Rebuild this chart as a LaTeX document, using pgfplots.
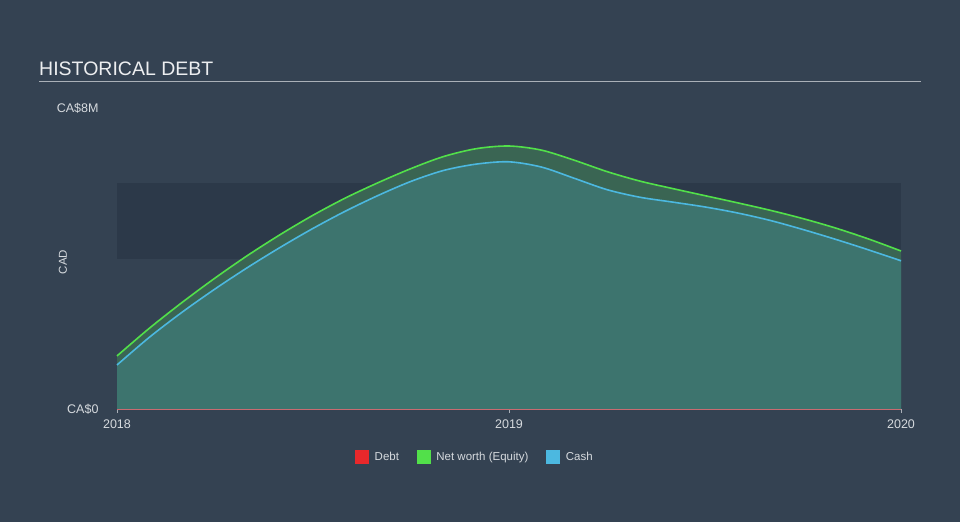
\documentclass[border=0pt]{standalone}
\usepackage{fontspec}
\setmainfont{Liberation Sans}
\usepackage{pgfplots}
\usepackage{pgfplotstable}
\pgfplotsset{compat=1.18}
\definecolor{bg}{RGB}{52,66,82}
\definecolor{band}{RGB}{44,57,73}
\definecolor{nwfill}{RGB}{58,101,83}
\definecolor{cashfill}{RGB}{61,116,110}
\definecolor{nwline}{RGB}{82,224,74}
\definecolor{cashline}{RGB}{76,184,224}
\definecolor{debtc}{RGB}{232,40,43}
\definecolor{titlec}{RGB}{236,238,240}
\definecolor{labc}{RGB}{214,218,222}
\definecolor{rulec}{RGB}{170,176,184}
\pgfplotstableread{
t        nw    cash
2018.000 1.41  1.17
2018.083 2.15  1.91
2018.167 2.84  2.58
2018.250 3.48  3.19
2018.333 4.08  3.76
2018.417 4.64  4.30
2018.500 5.15  4.80
2018.583 5.61  5.26
2018.667 6.02  5.68
2018.750 6.39  6.05
2018.833 6.71  6.34
2018.917 6.92  6.51
2019.000 6.99  6.57
2019.083 6.88  6.43
2019.167 6.61  6.13
2019.250 6.31  5.83
2019.333 6.06  5.63
2019.417 5.86  5.50
2019.500 5.67  5.37
2019.583 5.48  5.21
2019.667 5.28  5.01
2019.750 5.06  4.77
2019.833 4.81  4.51
2019.917 4.52  4.23
2020.000 4.20  3.94
}\datatable
\begin{document}
\begin{tikzpicture}[x=1pt,y=1pt]
\fill[bg] (0,0) rectangle (960,522);
\node[anchor=base west, font=\fontsize{19.5}{23}\selectfont, text=titlec, inner sep=0] at (39,446) {HISTORICAL DEBT};
\draw[rulec, line width=1.5pt] (39,440.5) -- (921,440.5);
\node[rotate=90, font=\fontsize{11.5}{13}\selectfont, text=labc] at (63,260) {CAD};
\begin{axis}[
  at={(117pt,113pt)}, anchor=south west,
  scale only axis, width=784pt, height=301pt,
  xmin=2018, xmax=2020, ymin=0, ymax=8,
  axis line style={draw=none},
  axis x line*=bottom, axis y line*=left,
  xtick={2018,2019,2020}, xticklabels={2018,2019,2020},
  ytick={0,8}, yticklabels={CA\$0,CA\$8M},
  tick label style={font=\fontsize{12.5}{14}\selectfont, text=labc},
  x tick style={draw=rulec, line width=0.8pt},
  major tick length=4pt, tick align=outside,
  y tick style={draw=none},
  yticklabel style={xshift=-11pt},
  xticklabel style={yshift=-3pt},
  clip=false,
  legend style={at={(0.4566,-0.1595)}, anchor=center, draw=none, fill=none,
    text=labc, font=\fontsize{11.5}{13}\selectfont, legend columns=3,
    /tikz/every odd column/.append style={column sep=4pt},
    /tikz/every even column/.append style={column sep=16pt}},
  legend cell align=left,
]
\fill[band] (axis cs:2018,4) rectangle (axis cs:2020,6);
\addplot[fill=nwfill, draw=none, smooth, forget plot] table[x=t,y=nw] {\datatable} \closedcycle;
\addplot[fill=cashfill, draw=none, smooth, forget plot] table[x=t,y=cash] {\datatable} \closedcycle;
\draw[rulec, line width=0.8pt] (axis cs:2018,0) -- (axis cs:2020,0);
\addplot[debtc, line width=0.6pt, opacity=0.5, forget plot] coordinates {(2018,0)(2020,0)};
\addplot[nwline, line width=1.6pt, smooth, forget plot] table[x=t,y=nw] {\datatable};
\addplot[cashline, line width=1.6pt, smooth, forget plot] table[x=t,y=cash] {\datatable};
\addlegendimage{legend image code/.code={\fill[debtc] (0pt,-6.5pt) rectangle (13pt,6.5pt);}}
\addlegendentry{Debt}
\addlegendimage{legend image code/.code={\fill[nwline] (0pt,-6.5pt) rectangle (13pt,6.5pt);}}
\addlegendentry{Net worth (Equity)}
\addlegendimage{legend image code/.code={\fill[cashline] (0pt,-6.5pt) rectangle (13pt,6.5pt);}}
\addlegendentry{Cash}
\end{axis}
\end{tikzpicture}
\end{document}
